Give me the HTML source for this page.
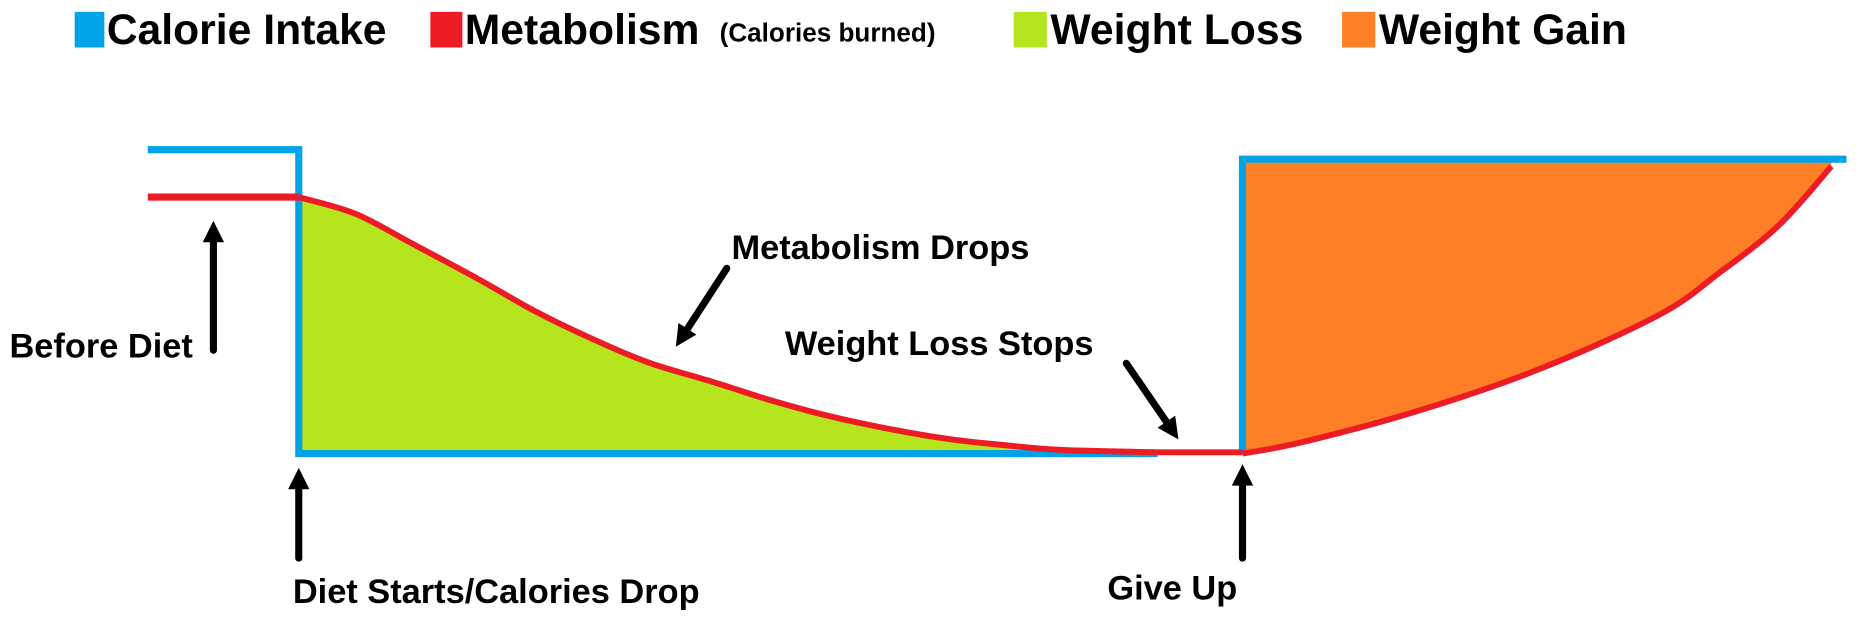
<!DOCTYPE html>
<html><head><meta charset="utf-8"><style>
html,body{margin:0;padding:0;background:#fff;}
svg{display:block;}
text{font-family:"Liberation Sans",sans-serif;font-weight:bold;fill:#000;}
</style></head><body>
<svg id="chart" width="1859" height="621" viewBox="0 0 1568 523" preserveAspectRatio="none" xmlns="http://www.w3.org/2000/svg">
<g>
 <rect x="63" y="10" width="25" height="30" fill="#00a2e8"/>
 <text x="90" y="37" font-size="36">Calorie Intake</text>
 <rect x="363" y="10" width="27" height="30" fill="#ed1c24"/>
 <text x="392" y="37" font-size="36">Metabolism</text>
 <text x="607" y="35" font-size="22">(Calories burned)</text>
 <rect x="855" y="10" width="28" height="30" fill="#b5e61d"/>
 <text x="886" y="37" font-size="36">Weight Loss</text>
 <rect x="1132" y="10" width="28" height="30" fill="#ff7f27"/>
 <text x="1163" y="37" font-size="36">Weight Gain</text>
</g>
<g id="plot"></g>
<g>
 <text x="8" y="301" font-size="29">Before Diet</text>
 <text x="247" y="508" font-size="29">Diet Starts/Calories Drop</text>
 <text x="934" y="505" font-size="29">Give Up</text>
 <text x="617" y="218" font-size="29">Metabolism Drops</text>
 <text x="662" y="299" font-size="29">Weight Loss Stops</text>
</g>
</svg>
<script>
// time units (days), calories
const preDietT = [-16, 0];
const preIntake = 2685;
const preMetab = 2500;
const dietIntake = 1500;
const dietEndT = 91;
const giveUpT = 100;
const postIntake = 2648;
const endT = 164;
const dropT = [0, 6, 12, 19, 25, 31, 37, 44, 50, 56, 63, 69, 75, 81, 91];
const dropKcal = [2500, 2435, 2319, 2181, 2056, 1949, 1856, 1778, 1708, 1648, 1593, 1556, 1532, 1514, 1505];
const regainT = [100, 106.5, 119, 131.7, 144.2, 150.5, 156.8, 162.4];
const regainKcal = [1500, 1546, 1671, 1833, 2042, 2204, 2389, 2620];

const X = t => 252 + t * 7.96;
const Y = k => 166 + (2500 - k) * 0.216;
const NS = 'http://www.w3.org/2000/svg';
const plot = document.getElementById('plot');
function add(tag, attrs, name) {
  const el = document.createElementNS(NS, tag);
  for (const k in attrs) el.setAttribute(k, attrs[k]);
  
  
  plot.appendChild(el);
  return el;
}
function smooth(ts, ks) {
  const p = ts.map((t, i) => [X(t), Y(ks[i])]);
  let d = `M${p[0][0]},${p[0][1]}`;
  for (let i = 0; i < p.length - 1; i++) {
    const p0 = p[i - 1] || p[i], p1 = p[i], p2 = p[i + 1], p3 = p[i + 2] || p2;
    const c1 = [p1[0] + (p2[0] - p0[0]) / 6, p1[1] + (p2[1] - p0[1]) / 6];
    const c2 = [p2[0] - (p3[0] - p1[0]) / 6, p2[1] - (p3[1] - p1[1]) / 6];
    d += ` C${c1[0]},${c1[1]} ${c2[0]},${c2[1]} ${p2[0]},${p2[1]}`;
  }
  return d;
}
const dropPath = smooth(dropT, dropKcal);
const regainPath = smooth(regainT, regainKcal);
// fills
add('path', {d: dropPath + ` L${X(dietEndT)},${Y(dietIntake)} L${X(0)},${Y(dietIntake)} Z`, fill: '#b5e61d'}, 'weight-loss-area');
add('path', {d: regainPath + ` L${X(regainT[regainT.length-1])},${Y(postIntake)} L${X(giveUpT)},${Y(postIntake)} Z`, fill: '#ff7f27'}, 'weight-gain-area');
// calorie intake line
add('path', {d: `M${X(preDietT[0])},${Y(preIntake)} H${X(0)} V${Y(dietIntake)} H${X(dietEndT)}`, fill: 'none', stroke: '#00a2e8', 'stroke-width': 6}, 'calorie-intake-line-diet');
add('path', {d: `M${X(giveUpT)},${Y(dietIntake)} V${Y(postIntake)} H${X(endT)}`, fill: 'none', stroke: '#00a2e8', 'stroke-width': 6}, 'calorie-intake-line-after');
// metabolism
add('path', {d: `M${X(preDietT[0])},${Y(preMetab)} H${X(0)}`, fill: 'none', stroke: '#ed1c24', 'stroke-width': 6}, 'metabolism-line-before');
add('path', {d: dropPath + ` H${X(giveUpT)}`, fill: 'none', stroke: '#ed1c24', 'stroke-width': 5}, 'metabolism-line-drop');
add('path', {d: regainPath, fill: 'none', stroke: '#ed1c24', 'stroke-width': 5}, 'metabolism-line-regain');
// arrows
function arrow(x1, y1, x2, y2, name) {
  const a = Math.atan2(y2 - y1, x2 - x1), L = 18, W = 9;
  const bx = x2 - L * Math.cos(a), by = y2 - L * Math.sin(a);
  add('line', {x1, y1, x2: bx, y2: by, stroke: '#000', 'stroke-width': 6, 'stroke-linecap': 'round'}, name + '-shaft');
  add('polygon', {points: `${x2},${y2} ${bx - W*Math.sin(a)},${by + W*Math.cos(a)} ${bx + W*Math.sin(a)},${by - W*Math.cos(a)}`, fill: '#000'}, name + '-head');
}
arrow(180, 295, 180, 186, 'before-diet-arrow');
arrow(252, 470, 252, 394, 'diet-starts-arrow');
arrow(1048, 470, 1048, 391, 'give-up-arrow');
arrow(613, 226, 570, 292, 'metabolism-drops-arrow');
arrow(950, 306, 994, 370, 'weight-loss-stops-arrow');
</script>
</body></html>
